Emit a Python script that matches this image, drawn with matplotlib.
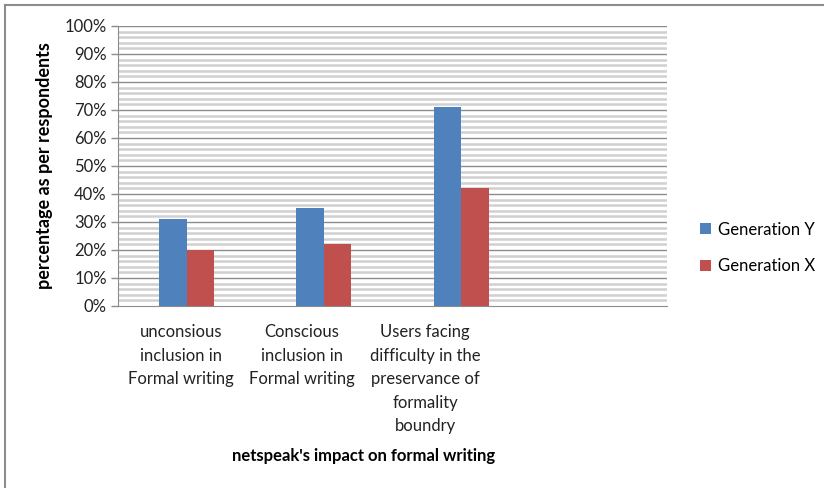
import matplotlib.pyplot as plt
import numpy as np
from matplotlib.lines import Line2D

plt.rcParams['font.family'] = ['Lato', 'DejaVu Sans']

# data
categories = ['unconsious\ninclusion in\nFormal writing',
              'Conscious\ninclusion in\nFormal writing',
              'Users facing\ndifficulty in the\npreservance of\nformality\nboundry',
              '']
gen_y = [31, 35, 71]
gen_x = [20, 22, 42]
series_names = ['Generation Y', 'Generation X']
yticks = np.arange(0, 101, 10)

W, H = 824, 488
fig = plt.figure(figsize=(W / 100, H / 100), dpi=100)
# plot area in pixels: x 118..667, y 26..306
ax = fig.add_axes([118 / W, 1 - 306 / H, (667 - 118) / W, (306 - 26) / H])

n = len(categories)
bw = 0.2
xi = np.arange(len(gen_y))
b1 = ax.bar(xi - bw / 2, gen_y, bw, color='#4F81BD', zorder=3)
b2 = ax.bar(xi + bw / 2, gen_x, bw, color='#C0504D', zorder=3)

ax.set_xlim(-0.5, n - 0.5)
ax.set_ylim(0, 100)

# gridlines: minor every 2%, major every 10%
for v in np.arange(2, 101, 2):
    if v % 10 == 0:
        ax.axhline(v, color='#8c8c8c', lw=1.0, zorder=1)
    else:
        ax.axhline(v, color='#d0d0d0', lw=1.8, zorder=1)

ax.set_yticks(yticks)
ax.set_yticklabels([f'{v}%' for v in yticks], fontsize=12, color='#222222')
ax.tick_params(axis='y', length=5, color='#8c8c8c', width=1, pad=3)
ax.tick_params(axis='x', length=0, labelbottom=False)
for s in ['top', 'right']:
    ax.spines[s].set_visible(False)
ax.spines['left'].set_color('#8c8c8c')
ax.spines['bottom'].set_color('#8c8c8c')

# category labels (Excel places them slightly left of the bars)
label_px = [181, 302, 425]
for lx, lab in zip(label_px, categories[:3]):
    fig.text(lx / W, 1 - 324 / H, lab, ha='center', va='top', fontsize=12,
             color='#222222', linespacing=1.58)

fig.text(364 / W, 1 - 456 / H, "netspeak's impact on formal writing",
         ha='center', va='center', fontsize=12, fontweight='bold')
fig.text(45 / W, 1 - 166 / H, 'percentage as per respondents', rotation=90,
         ha='center', va='center', fontsize=13, fontweight='bold')

fig.legend([b1, b2], series_names, loc='center left',
           bbox_to_anchor=(685 / W, 1 - 248 / H), frameon=False,
           fontsize=12, handlelength=0.65, handleheight=0.65,
           handletextpad=0.4, labelspacing=1.25)

# outer chart border (only top and left visible)
fig.add_artist(Line2D([5 / W, 1], [1 - 5 / H, 1 - 5 / H], color='#8c8c8c', lw=1.5))
fig.add_artist(Line2D([5 / W, 5 / W], [0, 1 - 5 / H], color='#8c8c8c', lw=1.5))

fig.savefig('out.png', dpi=100)
